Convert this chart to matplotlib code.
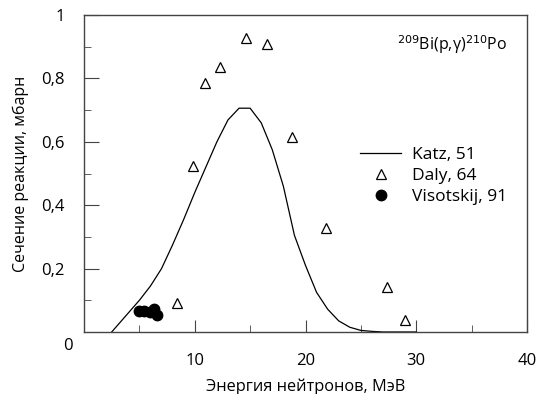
import matplotlib
matplotlib.use("Agg")
import matplotlib.pyplot as plt
from matplotlib.ticker import FixedLocator

plt.rcParams['font.family'] = ['Open Sans', 'DejaVu Sans']

# Katz, 51 (calculated curve)
katz_x = [2.5, 4, 5, 6, 7, 8, 9, 10, 11, 12, 13, 14, 15, 16, 17, 18, 19, 20, 21, 22, 23, 24, 25, 26, 27, 28, 29, 30]
katz_y = [0.0, 0.06, 0.10, 0.145, 0.20, 0.275, 0.355, 0.44, 0.52, 0.60, 0.669, 0.706, 0.706, 0.66, 0.575, 0.46,
          0.305, 0.21, 0.125, 0.072, 0.035, 0.015, 0.005, 0.002, 0.0, 0.0, 0.0, 0.0]

# Daly, 64
daly_x = [8.36, 9.81, 10.92, 12.27, 14.62, 16.49, 18.74, 21.84, 27.37, 28.97]
daly_y = [0.093, 0.525, 0.785, 0.837, 0.927, 0.908, 0.616, 0.329, 0.143, 0.038]

# Visotskij, 91
vis_x = [4.95, 5.4, 5.95, 6.3, 6.6]
vis_y = [0.065, 0.066, 0.062, 0.072, 0.055]

fig = plt.figure(figsize=(5.36, 3.94), dpi=100)
ax = fig.add_axes([84/536, 1-332/394, (527-84)/536, (332-15)/394])

ax.plot(katz_x, katz_y, color='black', lw=0.9, label='Katz, 51')
ax.plot(daly_x, daly_y, linestyle='none', marker='^', markersize=6.5, markerfacecolor='white',
        markeredgecolor='black', markeredgewidth=0.9, label='Daly, 64')
ax.plot(vis_x, vis_y, linestyle='none', marker='o', markersize=7.5, color='black', label='Visotskij, 91')

ax.set_xlim(0, 40)
ax.set_ylim(0, 1)
ax.xaxis.set_major_locator(FixedLocator([10, 20, 30, 40]))
ax.xaxis.set_minor_locator(FixedLocator([5, 15, 25, 35]))
ax.yaxis.set_major_locator(FixedLocator([0.2, 0.4, 0.6, 0.8, 1.0]))
ax.yaxis.set_minor_locator(FixedLocator([0.1, 0.3, 0.5, 0.7, 0.9]))
ax.set_yticklabels(['0,2', '0,4', '0,6', '0,8', '1'])
ax.set_xticklabels(['10', '20', '30', '40'])
ax.tick_params(axis='both', which='both', direction='in', color='#444444', labelsize=12)
ax.tick_params(axis='x', which='major', length=9, pad=15)
ax.tick_params(axis='x', which='minor', length=5)
ax.tick_params(axis='y', which='major', length=11, pad=14)
ax.tick_params(axis='y', which='minor', length=5)
for s in ax.spines.values():
    s.set_color('#444444')
    s.set_linewidth(1.0)

fig.text(68/536, 1-346/394, '0', fontsize=12, ha='center', va='center')

ax.set_xlabel('Энергия нейтронов, МэВ', fontsize=11.8, labelpad=7)
ax.set_ylabel('Сечение реакции, мбарн', fontsize=11.5, labelpad=9)

ax.text(0.955, 0.905, '$^{209}$Bi(p,γ)$^{210}$Po', transform=ax.transAxes,
        ha='right', va='center', fontsize=11.5)

ax.legend(loc='upper left', bbox_to_anchor=(0.603, 0.61), frameon=False, fontsize=12.5,
          handlelength=2.4, handletextpad=0.6, labelspacing=0.27, borderpad=0)

fig.savefig('out.png', dpi=100)
